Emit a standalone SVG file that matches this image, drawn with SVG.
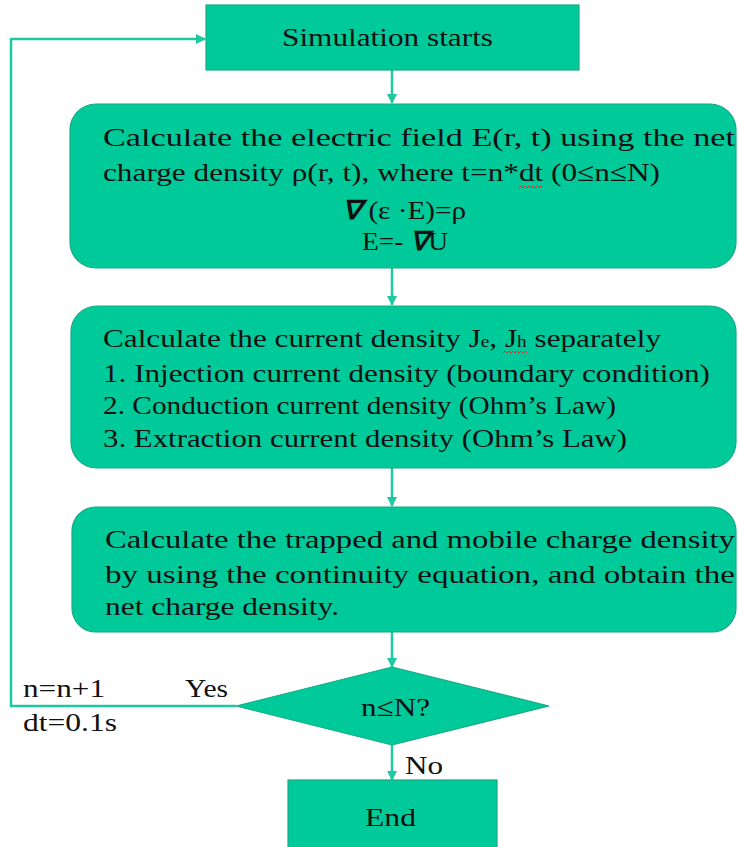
<svg xmlns="http://www.w3.org/2000/svg" width="739" height="847" viewBox="0 0 739 847">
<defs>
<marker id="ah" markerWidth="10" markerHeight="10" refX="9" refY="5" orient="auto" markerUnits="userSpaceOnUse">
<path d="M0,0 L10,5 L0,10 Z" fill="#1DC9A0"/>
</marker>
<style>
.box{fill:#00CA99;stroke:#17A985;stroke-width:1.2}
.t{font-family:"Liberation Serif","Times New Roman",serif;font-size:26px;fill:#111}
.conn{stroke:#1DC9A0;stroke-width:2.5;fill:none}
.sq{stroke:#e03030;stroke-width:1;fill:none}
</style>
</defs>
<rect width="739" height="847" fill="#ffffff"/>
<g id="connectors">
<line class="conn" x1="392" y1="70" x2="392" y2="103" marker-end="url(#ah)"/>
<line class="conn" x1="392" y1="268" x2="392" y2="305" marker-end="url(#ah)"/>
<line class="conn" x1="392" y1="468" x2="392" y2="506" marker-end="url(#ah)"/>
<line class="conn" x1="392" y1="632" x2="392" y2="667" marker-end="url(#ah)"/>
<line class="conn" x1="392" y1="745" x2="392" y2="780" marker-end="url(#ah)"/>
<polyline class="conn" points="236,706 11,706 11,39 205,39" marker-end="url(#ah)"/>
<text class="t" x="23" y="697" textLength="82" lengthAdjust="spacingAndGlyphs">n=n+1</text>
<text class="t" x="185" y="697" textLength="43" lengthAdjust="spacingAndGlyphs">Yes</text>
<text class="t" x="23" y="731" textLength="94" lengthAdjust="spacingAndGlyphs">dt=0.1s</text>
<text class="t" x="405" y="774" textLength="38" lengthAdjust="spacingAndGlyphs">No</text>
</g>
<g id="start">
<rect class="box" x="206" y="5" width="373" height="65"/>
<text class="t" x="282" y="46" font-size="28" textLength="211" lengthAdjust="spacingAndGlyphs">Simulation starts</text>
</g>
<g id="field">
<rect class="box" x="70" y="104" width="666" height="164" rx="26" ry="26"/>
<text class="t" x="103" y="146" textLength="632" lengthAdjust="spacingAndGlyphs">Calculate the electric field E(r, t) using the net</text>
<text class="t" x="103" y="181" textLength="557" lengthAdjust="spacingAndGlyphs">charge density ρ(r, t), where t=n*dt (0≤n≤N)</text>
<path class="sq" d="M519,188 l2,-2 l2,2 l2,-2 l2,2 l2,-2 l2,2 l2,-2 l2,2 l2,-2 l2,2 l2,-2 l2,2"/>
<text class="t" x="342" y="219" textLength="124" lengthAdjust="spacingAndGlyphs"><tspan font-weight="bold" font-style="italic">∇</tspan> (ε ·E)=ρ</text>
<text class="t" x="362" y="250" textLength="86" lengthAdjust="spacingAndGlyphs">E=- <tspan font-weight="bold" font-style="italic">∇</tspan>U</text>
</g>
<g id="current">
<rect class="box" x="71" y="306" width="665" height="162" rx="26" ry="26"/>
<text class="t" x="103" y="347" textLength="558" lengthAdjust="spacingAndGlyphs">Calculate the current density J<tspan font-size="16">e</tspan>, J<tspan font-size="16">h</tspan> separately</text>
<path class="sq" d="M503,353 l2,-2 l2,2 l2,-2 l2,2 l2,-2 l2,2 l2,-2 l2,2 l2,-2 l2,2 l2,-2 l2,2"/>
<text class="t" x="103" y="382" textLength="607" lengthAdjust="spacingAndGlyphs">1. Injection current density (boundary condition)</text>
<text class="t" x="103" y="414" textLength="513" lengthAdjust="spacingAndGlyphs">2. Conduction current density (Ohm’s Law)</text>
<text class="t" x="103" y="447" textLength="524" lengthAdjust="spacingAndGlyphs">3. Extraction current density (Ohm’s Law)</text>
</g>
<g id="charge">
<rect class="box" x="72" y="507" width="664" height="125" rx="24" ry="24"/>
<text class="t" x="105" y="548" textLength="630" lengthAdjust="spacingAndGlyphs">Calculate the trapped and mobile charge density</text>
<text class="t" x="105" y="583" textLength="630" lengthAdjust="spacingAndGlyphs">by using the continuity equation, and obtain the</text>
<text class="t" x="105" y="615" textLength="234" lengthAdjust="spacingAndGlyphs">net charge density.</text>
</g>
<g id="decision">
<polygon class="box" points="392,667 549,706 392,745 236,706"/>
<text class="t" x="361" y="716" textLength="69" lengthAdjust="spacingAndGlyphs">n≤N?</text>
</g>
<g id="end">
<rect class="box" x="288" y="780" width="209" height="70"/>
<text class="t" x="365" y="826" textLength="51" lengthAdjust="spacingAndGlyphs">End</text>
</g>
</svg>
